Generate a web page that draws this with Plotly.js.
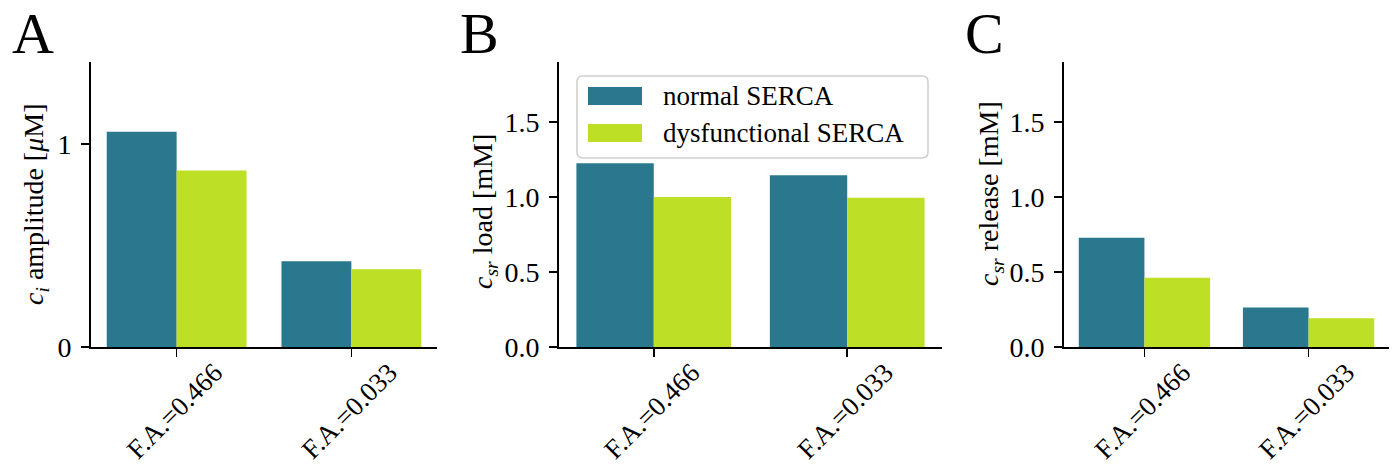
<!DOCTYPE html>
<html>
<head>
<meta charset="utf-8">
<script src="https://cdn.plot.ly/plotly-3.0.1.min.js"></script>
<style>html,body{margin:0;padding:0;background:#fff;}#chart{width:1395px;height:473px;}</style>
</head>
<body>
<div id="chart"></div>
<script>
// ---- data ----
const categories = ['F.A.=0.466', 'F.A.=0.033'];
const seriesNames = ['normal SERCA', 'dysfunctional SERCA'];
const ampNormal = [1.06, 0.422];
const ampDysf = [0.87, 0.383];
const loadNormal = [1.225, 1.145];
const loadDysf = [1.0, 0.995];
const relNormal = [0.729, 0.263];
const relDysf = [0.461, 0.192];
const ampTicks = [0, 1];
const ampTickText = ['0', '1'];
const srTicks = [0, 0.5, 1.0, 1.5];
const srTickText = ['0.0', '0.5', '1.0', '1.5'];
const panelLetters = ['A', 'B', 'C'];
const yTitles = [
  '<i>c</i><sub><i>i</i></sub> amplitude [<i>μ</i>M]',
  '<i>c</i><sub><i>sr</i></sub> load [mM]',
  '<i>c</i><sub><i>sr</i></sub> release [mM]'
];

// ---- layout helpers ----
const W = 1395, H = 473;
const px = x => x / W;
const py = y => 1 - y / H;
const colNormal = '#2a788e';
const colDysf = '#bddf26';
const FONT = 'Liberation Serif, Times New Roman, serif';

function bar(y, name, color, ax) {
  return {type: 'bar', x: categories, y: y, name: name, marker: {color: color, line: {width: 0}},
          xaxis: 'x' + ax, yaxis: 'y' + ax, showlegend: false, hoverinfo: 'x+y+name'};
}
const data = [
  bar(ampNormal, seriesNames[0], colNormal, ''),
  bar(ampDysf, seriesNames[1], colDysf, ''),
  bar(loadNormal, seriesNames[0], colNormal, '2'),
  bar(loadDysf, seriesNames[1], colDysf, '2'),
  bar(relNormal, seriesNames[0], colNormal, '3'),
  bar(relDysf, seriesNames[1], colDysf, '3')
];

function xax(x0, x1, anchor) {
  return {domain: [px(x0), px(x1)], anchor: anchor, range: [-0.49, 1.49], type: 'category',
          showline: true, linecolor: 'black', linewidth: 2, ticks: 'outside', ticklen: 8,
          tickwidth: 1.6, tickcolor: 'black', showgrid: false, zeroline: false,
          showticklabels: true, tickangle: -45, ticklabelshift: 38, ticklabelstandoff: -11,
          tickfont: {family: FONT, size: 27, color: 'black'}, automargin: false};
}
function yax(anchor, range, tv, tt) {
  return {domain: [py(347), py(62)], anchor: anchor, range: range, tickvals: tv, ticktext: tt,
          showline: true, linecolor: 'black', linewidth: 2, ticks: 'outside', ticklen: 8,
          tickwidth: 1.6, tickcolor: 'black', showgrid: false, zeroline: false, automargin: false,
          ticklabelstandoff: 4, tickfont: {family: FONT, size: 28, color: 'black'}};
}

const annotations = [];
// panel letters
[[10, 'A'], [458, 'B'], [963, 'C']].forEach((p, i) => {
  annotations.push({text: panelLetters[i], xref: 'paper', yref: 'paper', x: px(p[0]), y: py(33),
    xanchor: 'left', yanchor: 'middle', showarrow: false, font: {family: FONT, size: 58, color: 'black'}});
});
// y titles
[[35, 205], [485, 212], [990, 194]].forEach((p, i) => {
  annotations.push({text: yTitles[i], xref: 'paper', yref: 'paper', x: px(p[0]), y: py(p[1]),
    xanchor: 'center', yanchor: 'middle', textangle: -90, showarrow: false,
    font: {family: FONT, size: 28, color: 'black'}});
});
// legend text
[[96, seriesNames[0]], [133, seriesNames[1]]].forEach(p => {
  annotations.push({text: p[1], xref: 'paper', yref: 'paper', x: px(661), y: py(p[0]), xanchor: 'left',
    yanchor: 'middle', showarrow: false, font: {family: FONT, size: 27, color: 'black'}});
});

// legend frame (rounded) and patches
const lx0 = 577, lx1 = 928, ly0 = 76, ly1 = 158, r = 6;
const P = (x, y) => px(x) + ',' + py(y);
const framePath = 'M' + P(lx0 + r, ly0) + ' L' + P(lx1 - r, ly0) + ' Q' + P(lx1, ly0) + ' ' + P(lx1, ly0 + r) +
  ' L' + P(lx1, ly1 - r) + ' Q' + P(lx1, ly1) + ' ' + P(lx1 - r, ly1) + ' L' + P(lx0 + r, ly1) +
  ' Q' + P(lx0, ly1) + ' ' + P(lx0, ly1 - r) + ' L' + P(lx0, ly0 + r) + ' Q' + P(lx0, ly0) + ' ' + P(lx0 + r, ly0) + ' Z';
const shapes = [
  {type: 'path', xref: 'paper', yref: 'paper', path: framePath, fillcolor: 'rgba(255,255,255,0.8)',
   line: {color: '#d0d0d0', width: 1.6}, layer: 'above'},
  {type: 'rect', xref: 'paper', yref: 'paper', x0: px(588), x1: px(642), y0: py(87), y1: py(105),
   fillcolor: colNormal, line: {width: 0}, layer: 'above'},
  {type: 'rect', xref: 'paper', yref: 'paper', x0: px(588), x1: px(642), y0: py(124), y1: py(142),
   fillcolor: colDysf, line: {width: 0}, layer: 'above'}
];

const layout = {
  width: W, height: H, margin: {l: 0, r: 0, t: 0, b: 0},
  paper_bgcolor: 'white', plot_bgcolor: 'white',
  barmode: 'group', bargap: 0.2, bargroupgap: 0,
  font: {family: FONT, color: 'black'},
  showlegend: false,
  xaxis: xax(91, 437, 'y'),
  xaxis2: xax(559, 942, 'y2'),
  xaxis3: xax(1064, 1389, 'y3'),
  yaxis: yax('x', [0, 1.404], ampTicks, ampTickText),
  yaxis2: yax('x2', [0, 1.9], srTicks, srTickText),
  yaxis3: yax('x3', [0, 1.9], srTicks, srTickText),
  annotations: annotations,
  shapes: shapes
};

Plotly.newPlot('chart', data, layout, {displayModeBar: false, staticPlot: true});
</script>
</body>
</html>
